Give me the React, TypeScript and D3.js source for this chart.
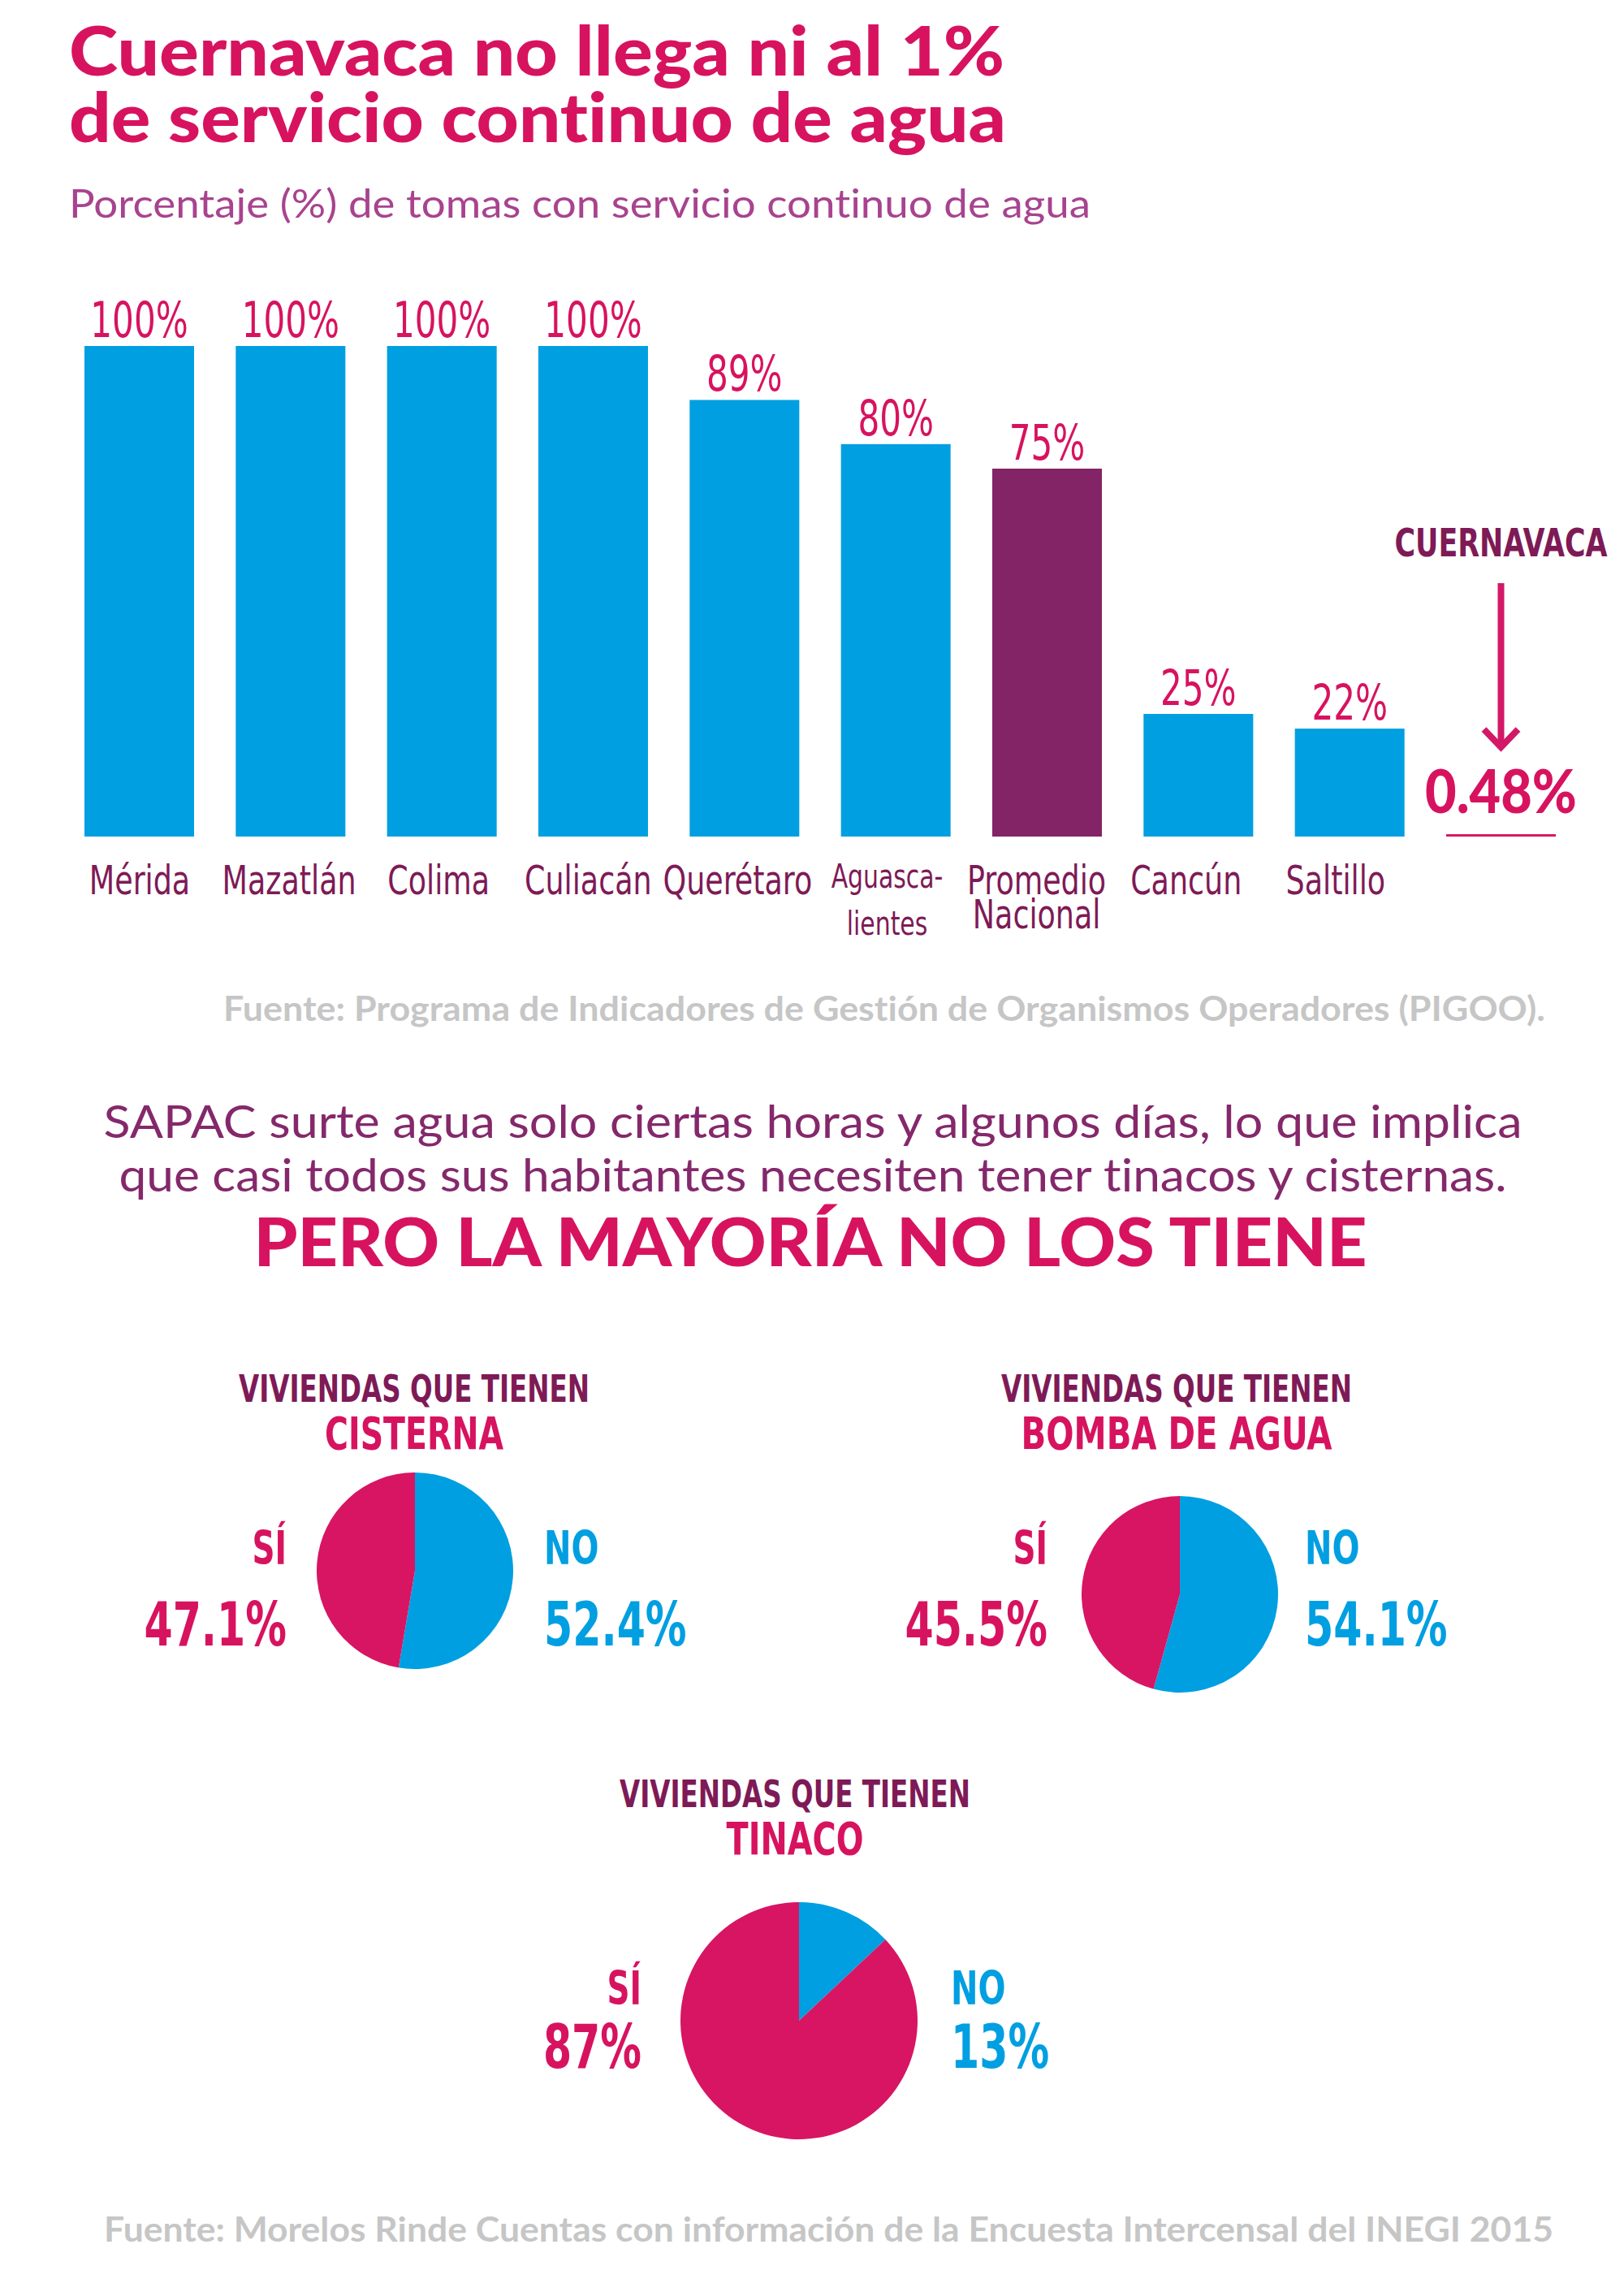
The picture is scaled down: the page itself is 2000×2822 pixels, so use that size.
import React from "react";
import * as d3 from "d3";

// ---------- DATA ----------
const categories = ["Mérida", "Mazatlán", "Colima", "Culiacán", "Querétaro", "Aguascalientes", "Promedio Nacional", "Cancún", "Saltillo", "Cuernavaca"];
const categoryLines = [["Mérida"], ["Mazatlán"], ["Colima"], ["Culiacán"], ["Querétaro"], ["Aguasca-", "lientes"], ["Promedio", "Nacional"], ["Cancún"], ["Saltillo"], []];
const values = [100, 100, 100, 100, 89, 80, 75, 25, 22, 0.48];
const valueLabels = ["100%", "100%", "100%", "100%", "89%", "80%", "75%", "25%", "22%", "0.48%"];

const pieTopics = ["CISTERNA", "BOMBA DE AGUA", "TINACO"];
const siValues = [47.1, 45.5, 87];
const noValues = [52.4, 54.1, 13];
const siLabels = ["47.1%", "45.5%", "87%"];
const noLabels = ["52.4%", "54.1%", "13%"];

// ---------- STYLE ----------
const PINK = "#d7135f";
const BLUE = "#009fe1";
const PURPLE = "#832466";
const DARK = "#7e1a56";
const GREY = "#c6c6c6";
const SANS = "Lato, 'Noto Sans', sans-serif";
const NARROW = "'Liberation Sans Narrow', 'DejaVu Sans Condensed', 'DejaVu Sans', sans-serif";
const NOLIG = { fontVariantLigatures: "none" as const, fontFeatureSettings: "'liga' 0, 'clig' 0" };

const W = 2000;
const H = 2822;

const x = d3.scaleBand<string>().domain(categories).range([104, 1916]).paddingInner(0.2754).paddingOuter(0);
const y = d3.scaleLinear().domain([0, 100]).range([1030, 426]);
// category labels sit on a slightly tighter grid than the bars
const xLabel = d3.scalePoint<string>().domain(categories).range([172, 172 + 9 * 184.1]);

const pieLayout = [
  { cx: 511, cy: 1934, r: 121, tx: 510, t1: 1726, t2: 1784, siX: 353, noX: 670, l1: 1926, l2: 2026, tw: 220 },
  { cx: 1453, cy: 1963, r: 121, tx: 1449, t1: 1726, t2: 1784, siX: 1290, noX: 1607, l1: 1926, l2: 2026, tw: 383 },
  { cx: 984, cy: 2488, r: 146, tx: 979, t1: 2225, t2: 2283, siX: 790, noX: 1171, l1: 2468, l2: 2546, tw: 169 },
];

function barColor(c: string) {
  if (c === "Promedio Nacional") return PURPLE;
  if (c === "Cuernavaca") return PINK;
  return BLUE;
}

type NTProps = { x: number; y: number; sx: number; anchor?: string; size: number; weight?: number; fill: string; children: React.ReactNode };
function NText({ x, y, sx, anchor = "middle", size, weight = 400, fill, children }: NTProps) {
  return (
    <text transform={`translate(${x},${y}) scale(${sx},1)`} textAnchor={anchor} fontFamily={NARROW} fontSize={size} fontWeight={weight} fill={fill}>
      {children}
    </text>
  );
}

export default function App() {
  const pieGen = d3.pie<number>().sort(null).value((d) => d);
  const bw = x.bandwidth();
  const cuerX = (x("Cuernavaca") as number) + bw / 2;

  return (
    <svg width={W} height={H} viewBox={`0 0 ${W} ${H}`} style={{ position: "absolute", left: 0, top: 0, background: "#fff" }}>
      <rect width={W} height={H} fill="#fff" />
      {/* Titles */}
      <text x={85} y={93} style={NOLIG} fontFamily={SANS} fontWeight={900} fontSize={84} fill={PINK} textLength={1152} lengthAdjust="spacingAndGlyphs">Cuernavaca no llega ni al 1%</text>
      <text x={85} y={175} style={NOLIG} fontFamily={SANS} fontWeight={900} fontSize={84} fill={PINK} textLength={1154} lengthAdjust="spacingAndGlyphs">de servicio continuo de agua</text>
      <text x={85} y={268} style={NOLIG} fontFamily={SANS} fontWeight={400} fontSize={48} fill="#a8438f" textLength={1258} lengthAdjust="spacingAndGlyphs">Porcentaje (%) de tomas con servicio continuo de agua</text>

      {/* Bars */}
      {categories.map((c, i) => {
        const bx = x(c) as number;
        const by = y(values[i]);
        return <rect key={"b" + i} x={bx} y={by} width={bw} height={y(0) - by} fill={barColor(c)} />;
      })}
      {categories.map((c, i) => {
        if (c === "Cuernavaca") return null;
        const cx = (x(c) as number) + bw / 2;
        return (
          <NText key={"v" + i} x={cx} y={y(values[i]) - 11} sx={0.78} size={60} fill={PINK}>{valueLabels[i]}</NText>
        );
      })}
      {categories.map((c, i) => {
        const cx = xLabel(c) as number;
        const lines = categoryLines[i];
        const small = c === "Aguascalientes";
        const fs = small ? 41 : 50;
        const ys = small ? [1093, 1151] : [1101, 1143];
        return lines.map((ln, j) => (
          <NText key={"c" + i + "-" + j} x={cx} y={ys[j]} sx={0.81} size={fs} fill={DARK}>{ln}</NText>
        ));
      })}

      {/* Cuernavaca annotation */}
      <text x={cuerX} y={685} textAnchor="middle" fontFamily={NARROW} fontWeight={700} fontSize={48} fill={DARK} textLength={262} lengthAdjust="spacingAndGlyphs">CUERNAVACA</text>
      <line x1={cuerX} x2={cuerX} y1={718} y2={921} stroke="#d31868" strokeWidth={8} />
      <polyline points={`${cuerX - 21},${898} ${cuerX},${920} ${cuerX + 21},${898}`} fill="none" stroke="#d31868" strokeWidth={8} />
      <text x={cuerX} y={1001} textAnchor="middle" fontFamily={SANS} fontWeight={900} fontSize={74} fill={PINK} textLength={187} lengthAdjust="spacingAndGlyphs">{valueLabels[9]}</text>

      {/* Source 1 */}
      <text x={275} y={1257} style={NOLIG} fontFamily={SANS} fontWeight={700} fontSize={42} fill={GREY} textLength={1628} lengthAdjust="spacingAndGlyphs">Fuente: Programa de Indicadores de Gestión de Organismos Operadores (PIGOO).</text>

      {/* Paragraph */}
      <text x={1001} y={1401} style={NOLIG} textAnchor="middle" fontFamily={SANS} fontWeight={400} fontSize={57} fill="#85286b" textLength={1747} lengthAdjust="spacingAndGlyphs">SAPAC surte agua solo ciertas horas y algunos días, lo que implica</text>
      <text x={1001} y={1467} style={NOLIG} textAnchor="middle" fontFamily={SANS} fontWeight={400} fontSize={57} fill="#85286b" textLength={1709} lengthAdjust="spacingAndGlyphs">que casi todos sus habitantes necesiten tener tinacos y cisternas.</text>
      <text x={998} y={1559} textAnchor="middle" fontFamily={SANS} fontWeight={900} fontSize={82} fill={PINK} textLength={1371} lengthAdjust="spacingAndGlyphs">PERO LA MAYORÍA NO LOS TIENE</text>

      {/* Pies */}
      {pieLayout.map((p, i) => {
        const arcs = pieGen([noValues[i], siValues[i]]);
        const arc = d3.arc<d3.PieArcDatum<number>>().innerRadius(0).outerRadius(p.r);
        return (
          <g key={"p" + i}>
            <text x={p.tx} y={p.t1} textAnchor="middle" fontFamily={NARROW} fontWeight={700} fontSize={47} fill={DARK} textLength={432} lengthAdjust="spacingAndGlyphs">VIVIENDAS QUE TIENEN</text>
            <text x={p.tx} y={p.t2} textAnchor="middle" fontFamily={NARROW} fontWeight={700} fontSize={56} fill={PINK} textLength={p.tw} lengthAdjust="spacingAndGlyphs">{pieTopics[i]}</text>
            <g transform={`translate(${p.cx},${p.cy})`}>
              {arcs.map((a, j) => (
                <path key={j} d={arc(a) as string} fill={j === 0 ? BLUE : "#d71563"} />
              ))}
            </g>
            <NText x={p.siX} y={p.l1} sx={0.76} anchor="end" size={57} weight={700} fill={PINK}>SÍ</NText>
            <NText x={p.siX} y={p.l2} sx={0.75} anchor="end" size={75} weight={700} fill={PINK}>{siLabels[i]}</NText>
            <NText x={p.noX} y={p.l1} sx={0.78} anchor="start" size={57} weight={700} fill={BLUE}>NO</NText>
            <NText x={p.noX} y={p.l2} sx={0.75} anchor="start" size={75} weight={700} fill={BLUE}>{noLabels[i]}</NText>
          </g>
        );
      })}

      {/* Source 2 */}
      <text x={128} y={2760} style={NOLIG} fontFamily={SANS} fontWeight={700} fontSize={42} fill={GREY} textLength={1785} lengthAdjust="spacingAndGlyphs">Fuente: Morelos Rinde Cuentas con información de la Encuesta Intercensal del INEGI 2015</text>
    </svg>
  );
}
